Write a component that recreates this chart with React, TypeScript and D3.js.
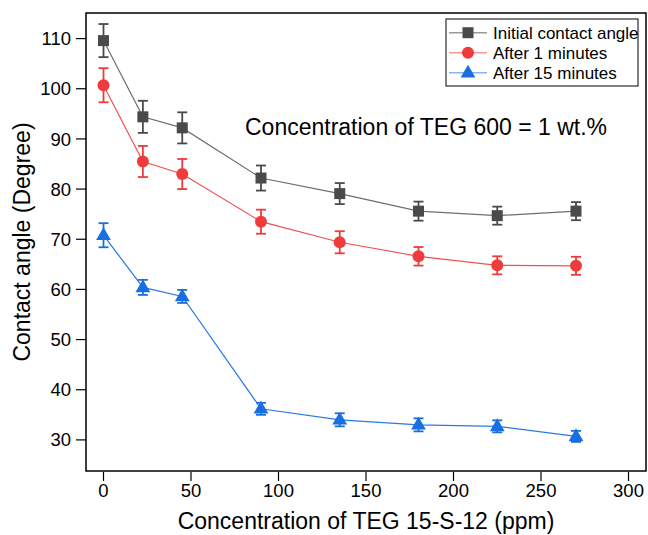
import React from "react";
import * as d3 from "d3";

const concentrations = [0, 22.5, 45, 90, 135, 180, 225, 270];
const initialAngle = [109.6, 94.4, 92.2, 82.2, 79.1, 75.6, 74.7, 75.6];
const initialErr = [3.3, 3.2, 3.1, 2.5, 2.1, 1.9, 1.8, 1.8];
const after1 = [100.7, 85.5, 83.0, 73.5, 69.4, 66.6, 64.8, 64.7];
const after1Err = [3.4, 3.1, 3.0, 2.4, 2.2, 1.85, 1.8, 1.8];
const after15 = [70.8, 60.4, 58.6, 36.2, 34.0, 33.0, 32.7, 30.7];
const after15Err = [2.4, 1.5, 1.3, 1.2, 1.3, 1.3, 1.2, 1.1];
const xTicks = [0, 50, 100, 150, 200, 250, 300];
const yTicks = [30, 40, 50, 60, 70, 80, 90, 100, 110];
const seriesNames = ["Initial contact angle", "After 1 minutes", "After 15 minutes"];

const W = 648, H = 535;
const L = 86, R = 646, T = 13, B = 471;
const font = "'Liberation Sans', Arial, sans-serif";

const series = [
  { name: seriesNames[0], values: initialAngle, errs: initialErr, marker: "square", color: "#4a4a4a", line: "#6e6e6e", legLine: "#9a9a9a" },
  { name: seriesNames[1], values: after1, errs: after1Err, marker: "circle", color: "#ef3b3b", line: "#f05050", legLine: "#f59a9a" },
  { name: seriesNames[2], values: after15, errs: after15Err, marker: "triangle", color: "#1a6fe0", line: "#2a78e4", legLine: "#8ab4ee" },
];

function Marker({ type, x, y, color }: { type: string; x: number; y: number; color: string }) {
  if (type === "square") return <rect x={x - 5.5} y={y - 5.5} width={11} height={11} fill={color} />;
  if (type === "circle") return <circle cx={x} cy={y} r={6} fill={color} />;
  const s = d3.symbol().type(d3.symbolTriangle).size(95)();
  return <path d={s || ""} transform={`translate(${x},${y + 0.5})`} fill={color} />;
}

export default function App() {
  const x = d3.scaleLinear().domain([-10, 310]).range([L, R]);
  const y = d3.scaleLinear().domain([23.8, 115.1]).range([B, T]);
  const lineGen = d3.line<number>().x((_, i) => x(concentrations[i])).y((v) => y(v));

  return (
    <svg width={W} height={H} style={{ position: "absolute", left: 0, top: 0, background: "#fff" }} fontFamily={font}>
      <rect x={0} y={0} width={W} height={H} fill="#fff" />
      {series.map((s) => (
        <g key={s.name}>
          <path d={lineGen(s.values) || ""} fill="none" stroke={s.line} strokeWidth={1.2} />
          {s.values.map((v, i) => {
            const cx = x(concentrations[i]);
            const y1 = y(v + s.errs[i]);
            const y2 = y(v - s.errs[i]);
            return (
              <g key={i} stroke={s.color} strokeWidth={1.8}>
                <line x1={cx} x2={cx} y1={y1} y2={y2} />
                <line x1={cx - 5} x2={cx + 5} y1={y1} y2={y1} />
                <line x1={cx - 5} x2={cx + 5} y1={y2} y2={y2} />
              </g>
            );
          })}
          {s.values.map((v, i) => (
            <Marker key={"m" + i} type={s.marker} x={x(concentrations[i])} y={y(v)} color={s.color} />
          ))}
        </g>
      ))}
      <rect x={L} y={T} width={R - L} height={B - T} fill="none" stroke="#000" strokeWidth={1.5} />
      {xTicks.map((t) => (
        <g key={t}>
          <line x1={x(t)} x2={x(t)} y1={B + 1} y2={B + 10} stroke="#000" strokeWidth={1.2} />
          <text x={x(t)} y={B + 26} fontSize={18.5} textAnchor="middle" fill="#000">{t}</text>
        </g>
      ))}
      {yTicks.map((t) => (
        <g key={t}>
          <line x1={L - 10} x2={L} y1={y(t)} y2={y(t)} stroke="#000" strokeWidth={1.2} />
          <text x={L - 15} y={y(t) + 6.6} fontSize={18.5} textAnchor="end" fill="#000">{t}</text>
        </g>
      ))}
      <text x={366} y={529} fontSize={23} textAnchor="middle" fill="#000">Concentration of TEG 15-S-12 (ppm)</text>
      <text transform={`translate(30,${242}) rotate(-90)`} fontSize={23} textAnchor="middle" fill="#000">Contact angle (Degree)</text>
      <text x={245} y={135} fontSize={23} fill="#000">Concentration of TEG 600 = 1 wt.%</text>
      <rect x={446} y={19} width={192} height={67} fill="#fff" stroke="#000" strokeWidth={1} />
      {series.map((s, i) => {
        const ly = 32.7 + i * 20;
        return (
          <g key={"leg" + i}>
            <line x1={449} x2={487} y1={ly} y2={ly} stroke={s.legLine} strokeWidth={1.5} />
            <Marker type={s.marker} x={468} y={ly} color={s.color} />
            <text x={493} y={ly + 6} fontSize={17} fill="#000">{s.name}</text>
          </g>
        );
      })}
    </svg>
  );
}
